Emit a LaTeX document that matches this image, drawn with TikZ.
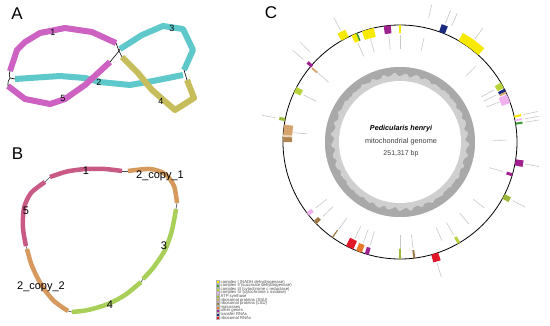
\documentclass[tikz,border=0pt]{standalone}
\usepackage{fontspec}
\setmainfont{Liberation Sans}
\definecolor{magA}{HTML}{CD62C2}
\definecolor{cyanA}{HTML}{5EC8CB}
\definecolor{oliveA}{HTML}{C8BD5B}
\definecolor{roseB}{HTML}{C95A86}
\definecolor{tanB}{HTML}{D69A5E}
\definecolor{greenB}{HTML}{A8CF57}
\definecolor{cI}{HTML}{F7EA00}
\definecolor{cII}{HTML}{3C9A3C}
\definecolor{cIII}{HTML}{B8D43A}
\definecolor{cIV}{HTML}{F0B0F0}
\definecolor{atp}{HTML}{9CB93A}
\definecolor{ssu}{HTML}{D6A46E}
\definecolor{lsu}{HTML}{A07845}
\definecolor{mat}{HTML}{E8782A}
\definecolor{other}{HTML}{A0228F}
\definecolor{trna}{HTML}{1A2A80}
\definecolor{rrna}{HTML}{E0182A}
\definecolor{ringdark}{HTML}{A9A9A9}
\definecolor{ringlight}{HTML}{CFCFCF}
\newcommand{\gsec}[5]{\fill[#5] ({#1-90}:#3) arc[start angle={#1-90},end angle={#2-90},radius=#3] -- ({#2-90}:#4) arc[start angle={#2-90},end angle={#1-90},radius=#4] -- cycle;}
\newcommand{\lout}[1]{\draw[leader] ({#1-90}:127) -- ({#1-90}:141);}
\newcommand{\lin}[1]{\draw[leader] ({#1-90}:107) -- ({#1-90}:93);}
\begin{document}
\begin{tikzpicture}[x=1pt,y=-1pt,line cap=butt,
 segA/.style={line width=6pt,line join=round},
 segB/.style={line width=4.5pt},
 junc/.style={line width=0.6pt,black},
 gapline/.style={line width=0.6pt,black!70},
 plab/.style={font=\fontsize{17}{17}\selectfont,inner sep=0},
 alab/.style={font=\fontsize{9}{9}\selectfont,inner sep=0},
 blab/.style={font=\fontsize{11}{11}\selectfont,inner sep=0},
 leg/.style={font=\fontsize{4.2}{4.2}\selectfont,inner sep=0,anchor=west,text=black!70},
 legbox/.style={minimum size=3pt,inner sep=0,draw=black!30,line width=0.1pt},
 leader/.style={line width=0.6pt,black!22}]
\useasboundingbox (0,0) rectangle (550,325);
\fill[white] (0,0) rectangle (550,325);
% ---------------- Panel A ----------------
\node[plab] (labA) at (17,13.5) {A};
\coordinate (a1s) at (10,71);   \coordinate (a1e) at (116,43);
\coordinate (a3s) at (120,49);  \coordinate (a3e) at (184,70);
\coordinate (a2s) at (15,79);   \coordinate (a2e) at (183,75);
\coordinate (a5s) at (8,86);    \coordinate (a5e) at (110,62);
\coordinate (a4s) at (122,57);  \coordinate (a4e) at (187,80);
\coordinate (jL) at (10,78);
\coordinate (jM) at (119,51);
\draw[segA,magA] (a1s) -- (17,50) -- (25,42) -- (40,33) -- (65,28) -- (92,32) -- (a1e);
\draw[segA,cyanA] (a3s) -- (142,35) -- (163,26) -- (183,29) -- (193,50) -- (a3e);
\draw[segA,cyanA] (a2s) -- (60,76) -- (85,78) -- (100,82) -- (130,85) -- (153,81) -- (a2e);
\draw[segA,magA] (a5s) -- (25,99) -- (50,104) -- (65,99) -- (85,85) -- (a5e);
\draw[segA,oliveA] (a4s) -- (138,73) -- (152,90) -- (175,110) -- (194,98) -- (a4e);
\draw[junc] (a1s) .. controls (9,75) .. (jL) -- (a2s);
\draw[junc] (jL) .. controls (8,81) .. (a5s);
\draw[junc] (a1e) -- (jM) -- (a3s);
\draw[junc] (jM) -- (a5e);
\draw[junc] (jM) -- (a4s);
\draw[junc] (a3e) -- (a4e);
\node[alab] (n1) at (53,32) {1};
\node[alab] (n2) at (99,82) {2};
\node[alab] (n3) at (172,28) {3};
\node[alab] (n4) at (161,101) {4};
\node[alab] (n5) at (63,98) {5};
% ---------------- Panel B ----------------
\node[plab] (labB) at (17.5,154) {B};
\coordinate (b1s) at (50,177);  \coordinate (b1e) at (122,171);
\coordinate (b2s) at (128,171); \coordinate (b2e) at (177,203);
\coordinate (b3s) at (176,209); \coordinate (b3e) at (143,279);
\coordinate (b4s) at (141,282); \coordinate (b4e) at (72,312);
\coordinate (b6s) at (68,311);  \coordinate (b6e) at (27,249);
\coordinate (b5s) at (26,246);  \coordinate (b5e) at (45,182);
\draw[gapline] (b1e) -- (b2s);
\draw[gapline] (b2e) -- (b3s);
\draw[gapline] (b3e) -- (b4s);
\draw[gapline] (b4e) -- (b6s);
\draw[gapline] (b6e) -- (b5s);
\draw[gapline] (b5e) -- (b1s);
\draw[segB,roseB] plot[smooth] coordinates {(b1s) (67,171.5) (86,169) (105,169) (b1e)};
\draw[segB,tanB] plot[smooth] coordinates {(b2s) (150,169) (165,174) (174,186) (b2e)};
\draw[segB,greenB] plot[smooth] coordinates {(b3s) (172,230) (165,250) (153,268) (b3e)};
\draw[segB,greenB] plot[smooth] coordinates {(b4s) (125,295) (108,304) (88,310) (b4e)};
\draw[segB,tanB] plot[smooth] coordinates {(b6s) (54,301) (42,286) (32,266) (b6e)};
\draw[segB,roseB] plot[smooth] coordinates {(b5s) (23,228) (24,208) (31,193) (b5e)};
\node[blab] (m1) at (86,171) {1};
\node[blab] (m2) at (160,176) {2\_copy\_1};
\node[blab] (m3) at (164,246) {3};
\node[blab] (m4) at (110,305) {4};
\node[blab] (m6) at (41,287) {2\_copy\_2};
\node[blab] (m5) at (26,211) {5};
% ---------------- Panel C ----------------
\node[plab] (labC) at (271,12.5) {C};
\begin{scope}[shift={(400,142)}]
 \fill[ringlight] (0,0) circle[radius=75];
 \fill[ringdark,even odd rule] (0,0) circle[radius=75]
   plot[domain=0:359,samples=360,variable=\u] (\u:{67.5+1.0*sin(37*\u)+0.8*sin(43*\u)*cos(29*\u)+0.6*sin(41*\u)}) -- cycle;
 \fill[white] (0,0) circle[radius=61];
 % leader lines
 \foreach \a in {-28,13,21,24,36,77.5,79.5,81,100,117.5,163,281,310.5,-45}{\lout{\a}}
 \foreach \a in {-23,-16,-6,0,13,45,61,64,68,89,106,128,140,150,157,173,180,196,200,205,215,226,232,296,310,275}{\lin{\a}}
 % genome circle
 \draw[line width=0.8pt,black] (0,0) circle[radius=117];
 % genes
 \gsec{-30}{-26}{117}{125}{cI}
 \gsec{-24.5}{-21.5}{109}{117}{cI}
 \gsec{-22}{-21.2}{109}{117}{cII}
 \gsec{-19}{-13}{108}{117}{cI}
 \gsec{-8}{-4.5}{109}{117}{other}
 \gsec{-0.5}{0.5}{109}{117}{cI}
 \gsec{19.5}{22.5}{117}{125}{trna}
 \gsec{30}{42}{117}{126}{cI}
 \gsec{59.5}{62.5}{110}{117}{cIII}
 \gsec{63}{64.5}{110}{117}{trna}
 \gsec{64.5}{65.5}{110}{117}{ssu}
 \gsec{66}{70.5}{108}{117}{cIV}
 \gsec{77}{78}{117}{124}{cI}
 \gsec{79}{79.8}{117}{124}{cIV}
 \gsec{80.5}{81.5}{117}{124}{cII}
 \gsec{98.5}{101.5}{117}{125}{other}
 \gsec{105.5}{107}{111}{117}{other}
 \gsec{116.5}{119}{117}{124}{atp}
 \gsec{149}{150.5}{110}{117}{cIII}
 \gsec{161}{164.5}{117}{125}{rrna}
 \gsec{172.5}{173.5}{109}{117}{lsu}
 \gsec{179.5}{180.5}{107}{117}{atp}
 \gsec{195.5}{197.5}{110}{117}{other}
 \gsec{199}{202}{109}{117}{mat}
 \gsec{203.5}{207.5}{108}{117}{rrna}
 \gsec{215}{215.6}{108}{117}{lsu}
 \gsec{225.5}{227.5}{111}{117}{lsu}
 \gsec{231}{233}{111}{117}{cIV}
 \gsec{270}{272.5}{108}{117}{lsu!70!ssu}
 \gsec{272.5}{273.5}{108}{117}{ssu!45}
 \gsec{273.5}{278.6}{108}{117}{ssu}
 \gsec{280.3}{281.8}{117}{123}{atp}
 \gsec{295}{298}{110}{117}{cIII}
 \gsec{310}{311.5}{116}{122}{other}
 \gsec{309.5}{310.5}{108}{115}{ssu}
\end{scope}
\node[inner sep=0,font=\fontsize{7.2}{8}\selectfont\bfseries\itshape] (sp) at (401,129) {Pedicularis henryi};
\node[inner sep=0,font=\fontsize{7.3}{8}\selectfont,text=black!75] (mg) at (401,142) {mitochondrial genome};
\node[inner sep=0,font=\fontsize{7}{8}\selectfont,text=black!75] (bp) at (401,153.5) {251,317 bp};
% legend
\foreach \lc/\lt [count=\li] in {cI/complex I (NADH dehydrogenase),cII/complex II (succinate dehydrogenase),cIII/complex III (cytochrome c reductase),cIV/complex IV (cytochrome c oxidase),atp/ATP synthase,ssu/ribosomal proteins (SSU),lsu/ribosomal proteins (LSU),mat/maturases,other/other genes,trna/transfer RNAs,rrna/ribosomal RNAs}{
 \node[legbox,fill=\lc] (lg\li) at (218,{282+3.6*(\li-1)}) {};
 \node[leg] (lt\li) at (220.5,{282+3.6*(\li-1)}) {\lt};
}
\end{tikzpicture}
\end{document}
